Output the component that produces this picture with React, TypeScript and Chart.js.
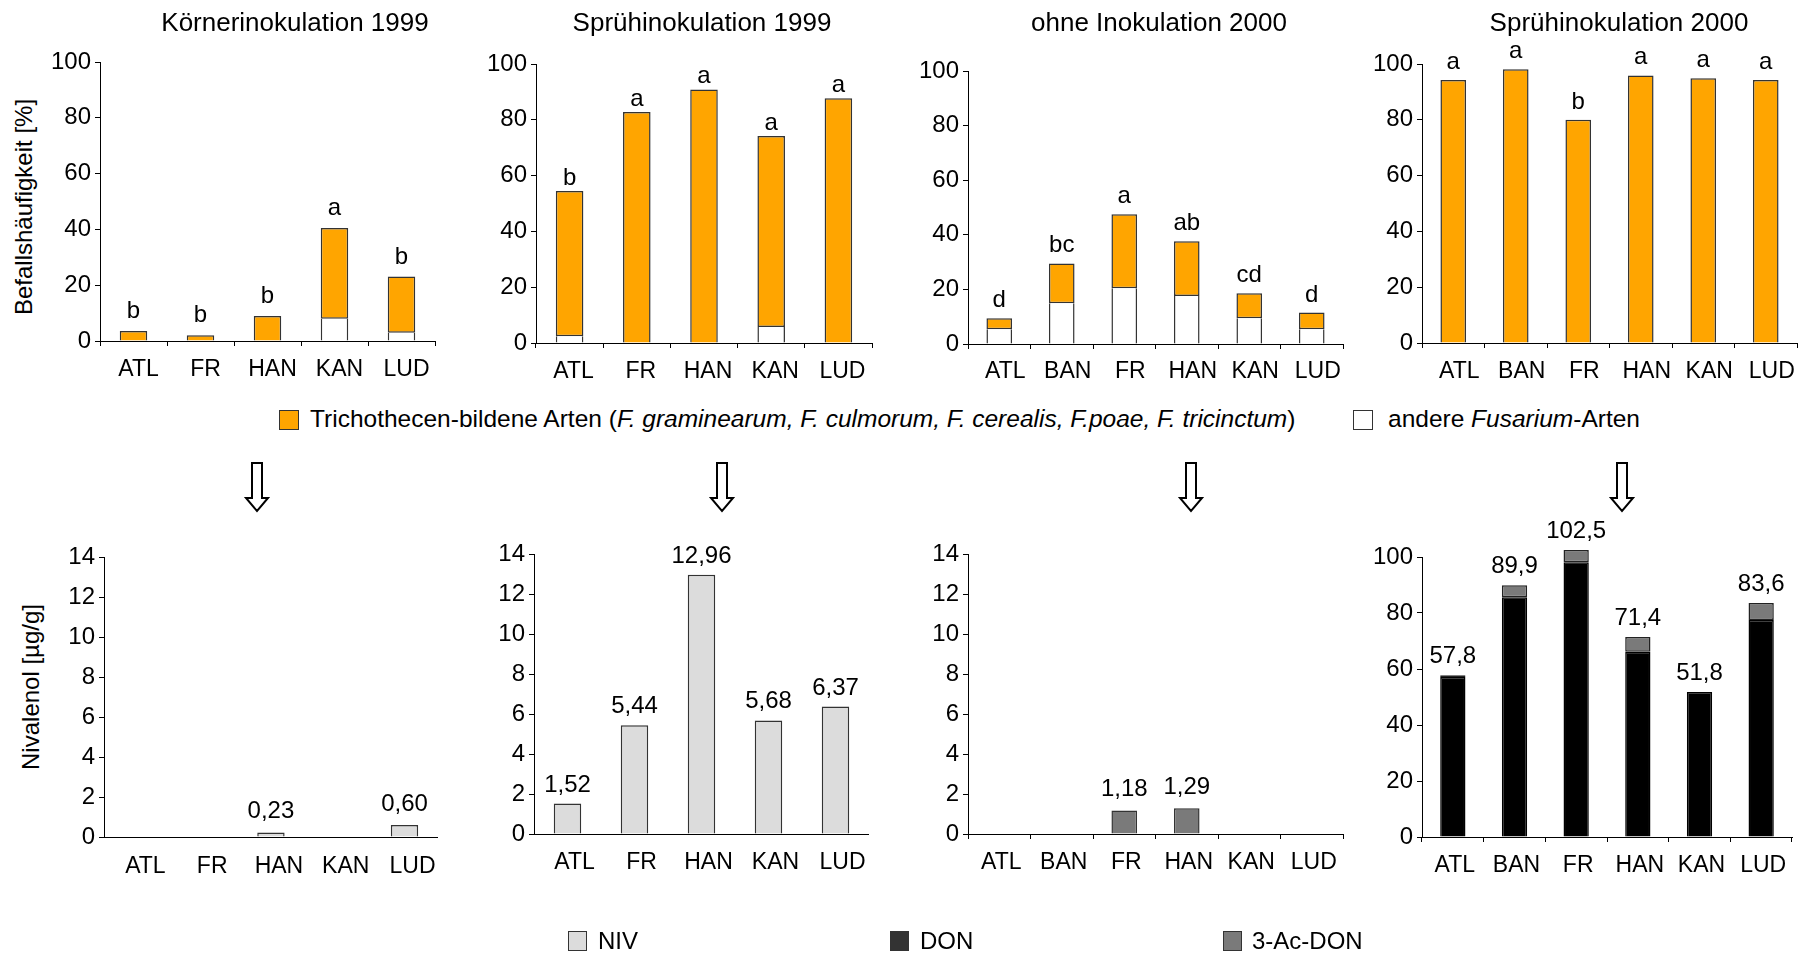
import React, { useEffect, useRef } from 'react';
import { Chart, registerables } from 'chart.js';

Chart.register(...registerables);

const FONT = '"Liberation Sans", Arial, Helvetica, sans-serif';
Chart.defaults.font.family = FONT;
Chart.defaults.color = '#000';

// Standorte
const orte1999 = ['ATL', 'FR', 'HAN', 'KAN', 'LUD'];
const orte2000 = ['ATL', 'BAN', 'FR', 'HAN', 'KAN', 'LUD'];

// Befallshäufigkeit [%]: andere Fusarium-Arten (unten) und Trichothecen-Bildner (oben)
const koerner1999Andere = [0, 0, 0, 8.0, 3.0];
const koerner1999Trich = [3.6, 2.1, 9.0, 32.5, 20.1];
const koerner1999Gruppen = ['b', 'b', 'b', 'a', 'b'];

const sprueh1999Andere = [2.4, 0, 0, 5.7, 0];
const sprueh1999Trich = [52.1, 82.8, 90.9, 68.5, 87.7];
const sprueh1999Gruppen = ['b', 'a', 'a', 'a', 'a'];

const ohne2000Andere = [5.4, 14.9, 20.4, 17.6, 9.4, 5.4];
const ohne2000Trich = [4.0, 14.6, 27.1, 20.0, 9.2, 6.1];
const ohne2000Gruppen = ['d', 'bc', 'a', 'ab', 'cd', 'd'];

const sprueh2000Andere = [0, 0, 0, 0, 0, 0];
const sprueh2000Trich = [94.3, 98.1, 80.0, 95.9, 94.9, 94.3];
const sprueh2000Gruppen = ['a', 'a', 'b', 'a', 'a', 'a'];

// Toxingehalte [µg/g]
const koerner1999Niv = [0, 0, 0.23, 0, 0.6];
const sprueh1999Niv = [1.52, 5.44, 12.96, 5.68, 6.37];
const ohne2000Toxin = [0, 0, 1.18, 1.29, 0, 0];
const sprueh2000Don = [57.1, 85.6, 98.1, 66.2, 51.8, 77.5];
const sprueh2000AcDon = [0.7, 4.3, 4.4, 5.2, 0, 6.1];

const ORANGE = '#FFA500';
const EDGE = '#333333';
const NIV_GREY = '#DCDCDC';
const DON_BLACK = '#000000';
const ACDON_GREY = '#7A7A7A';

const BAR = { barPercentage: 0.41, categoryPercentage: 1 };
const BW = 1.5;

// bottom segment: sides only, the axis line closes it
const andereDs = (data: number[]) => ({
  label: 'andere Fusarium-Arten', data, backgroundColor: '#FFFFFF', borderColor: EDGE,
  borderWidth: { top: 0, left: BW, right: BW, bottom: 0 }, borderSkipped: false, ...BAR,
});
// upper segment: its lower edge separates it from the white segment below
const trichDs = (data: number[], below: number[]) => ({
  label: 'Trichothecen-bildende Arten', data, backgroundColor: ORANGE, borderColor: EDGE,
  borderWidth: (c: any) => ({ top: BW, left: BW, right: BW, bottom: below[c.dataIndex] > 0 ? BW : 0 }),
  borderSkipped: false, ...BAR,
});
const toxinDs = (label: string, data: number[], color: string, edge: string, onAxis: boolean) => ({
  label, data, backgroundColor: color, borderColor: edge,
  borderWidth: { top: BW, left: BW, right: BW, bottom: onAxis ? 0 : BW },
  borderSkipped: false, clip: false, ...BAR,
});

const fmt = (v: number, d: number) => (v > 0 ? v.toFixed(d).replace('.', ',') : '');
const sum = (a: number[], b: number[]) => a.map((v, i) => v + b[i]);

type Panel = {
  area: { l: number; t: number; r: number; b: number };
  labels: string[];
  datasets: any[];
  yMax: number;
  yStep: number;
  xTicks: boolean;
  xPad: number;
  labelShift: number;
  texts: string[];
  textOffset: number;
};

const PANELS: Panel[] = [
  {
    area: { l: 100, t: 62, r: 435, b: 341 }, labels: orte1999,
    datasets: [andereDs(koerner1999Andere), trichDs(koerner1999Trich, koerner1999Andere)],
    yMax: 100, yStep: 20, xTicks: true, xPad: 10, labelShift: 5, texts: koerner1999Gruppen, textOffset: 13,
  },
  {
    area: { l: 536, t: 64, r: 872, b: 343 }, labels: orte1999,
    datasets: [andereDs(sprueh1999Andere), trichDs(sprueh1999Trich, sprueh1999Andere)],
    yMax: 100, yStep: 20, xTicks: true, xPad: 10, labelShift: 4, texts: sprueh1999Gruppen, textOffset: 6,
  },
  {
    area: { l: 968, t: 71, r: 1343, b: 344 }, labels: orte2000,
    datasets: [andereDs(ohne2000Andere), trichDs(ohne2000Trich, ohne2000Andere)],
    yMax: 100, yStep: 20, xTicks: true, xPad: 9, labelShift: 6, texts: ohne2000Gruppen, textOffset: 11,
  },
  {
    area: { l: 1422, t: 64, r: 1797, b: 343 }, labels: orte2000,
    datasets: [andereDs(sprueh2000Andere), trichDs(sprueh2000Trich, sprueh2000Andere)],
    yMax: 100, yStep: 20, xTicks: true, xPad: 10, labelShift: 6, texts: sprueh2000Gruppen, textOffset: 11,
  },
  {
    area: { l: 104, t: 557, r: 439, b: 837 }, labels: orte1999,
    datasets: [toxinDs('NIV', koerner1999Niv, NIV_GREY, EDGE, true)],
    yMax: 14, yStep: 2, xTicks: false, xPad: 16, labelShift: 8,
    texts: koerner1999Niv.map((v) => fmt(v, 2)), textOffset: 14,
  },
  {
    area: { l: 534, t: 554, r: 869, b: 834 }, labels: orte1999,
    datasets: [toxinDs('NIV', sprueh1999Niv, NIV_GREY, EDGE, true)],
    yMax: 14, yStep: 2, xTicks: false, xPad: 15, labelShift: 7,
    texts: sprueh1999Niv.map((v) => fmt(v, 2)), textOffset: 12,
  },
  {
    area: { l: 968, t: 554, r: 1343, b: 834 }, labels: orte2000,
    datasets: [toxinDs('3-Ac-DON', ohne2000Toxin, ACDON_GREY, EDGE, true)],
    yMax: 14, yStep: 2, xTicks: true, xPad: 10, labelShift: 2,
    texts: ohne2000Toxin.map((v) => fmt(v, 2)), textOffset: 14,
  },
  {
    area: { l: 1422, t: 557, r: 1792, b: 837 }, labels: orte2000,
    datasets: [
      toxinDs('DON', sprueh2000Don, DON_BLACK, DON_BLACK, true),
      toxinDs('3-Ac-DON', sprueh2000AcDon, ACDON_GREY, '#222222', false),
    ],
    yMax: 100, yStep: 20, xTicks: true, xPad: 10, labelShift: 2,
    texts: sum(sprueh2000Don, sprueh2000AcDon).map((v) => fmt(v, 1)), textOffset: 12,
  },
];

const Y_W = 60;
const X_H = 50;
const PAD_TOP = 50;
const PAD_RIGHT = 5;

function BarPanel({ p }: { p: Panel }) {
  const ref = useRef<HTMLCanvasElement>(null);
  const w = p.area.r - p.area.l + Y_W + PAD_RIGHT;
  const h = p.area.b - p.area.t + PAD_TOP + X_H;

  useEffect(() => {
    const texts = p.texts;
    const offset = p.textOffset;
    // writes the group letters / totals above each stacked column
    const stackText = {
      id: 'stackText',
      afterDatasetsDraw(chart: any) {
        const ctx = chart.ctx;
        const n = chart.data.datasets.length;
        ctx.save();
        ctx.font = `24px ${FONT}`;
        ctx.fillStyle = '#000';
        ctx.textAlign = 'center';
        ctx.textBaseline = 'alphabetic';
        texts.forEach((t, i) => {
          if (!t) return;
          let top = Infinity;
          let x = 0;
          for (let d = 0; d < n; d++) {
            const el = chart.getDatasetMeta(d).data[i];
            if (el) {
              top = Math.min(top, el.y);
              x = el.x;
            }
          }
          ctx.fillText(t, x, top - offset);
        });
        ctx.restore();
      },
    };

    const chart = new Chart(ref.current as HTMLCanvasElement, {
      type: 'bar',
      data: { labels: p.labels, datasets: p.datasets },
      options: {
        responsive: false,
        maintainAspectRatio: false,
        animation: false,
        layout: { padding: { top: PAD_TOP, right: PAD_RIGHT, left: 0, bottom: 0 } },
        plugins: { legend: { display: false }, tooltip: { enabled: false }, title: { display: false } },
        scales: {
          x: {
            stacked: true,
            afterFit: (s: any) => { s.height = X_H; },
            grid: p.xTicks
              ? { drawOnChartArea: false, drawTicks: true, tickLength: 5, color: '#000', offset: true }
              : { drawOnChartArea: false, drawTicks: false, color: 'rgba(0,0,0,0)' },
            border: { display: true, color: '#000', width: 1 },
            ticks: {
              padding: p.xPad, labelOffset: p.labelShift, font: { size: 23 }, color: '#000',
              maxRotation: 0, autoSkip: false,
            },
          },
          y: {
            stacked: true,
            min: 0,
            max: p.yMax,
            afterFit: (s: any) => { s.width = Y_W; },
            grid: { drawOnChartArea: false, drawTicks: true, tickLength: 5, color: '#000' },
            border: { display: true, color: '#000', width: 1 },
            ticks: { stepSize: p.yStep, padding: 4, font: { size: 24 }, color: '#000' },
          },
        },
      } as any,
      plugins: [stackText],
    });
    return () => chart.destroy();
  }, []);

  return (
    <canvas
      ref={ref}
      width={w}
      height={h}
      style={{ position: 'absolute', left: p.area.l - Y_W, top: p.area.t - PAD_TOP, width: w, height: h }}
    />
  );
}

const TITLES = [
  { text: 'Körnerinokulation 1999', x: 295, y: 22 },
  { text: 'Sprühinokulation 1999', x: 702, y: 22 },
  { text: 'ohne Inokulation 2000', x: 1159, y: 22 },
  { text: 'Sprühinokulation 2000', x: 1619, y: 22 },
];

const ARROW_X = [257, 722, 1191, 1622];

function Text({ x, y, size, children, rotate, anchor }: any) {
  const tf = anchor === 'left'
    ? 'translate(0, -50%)'
    : `translate(-50%, -50%)${rotate ? ' rotate(-90deg)' : ''}`;
  return (
    <div
      style={{
        position: 'absolute', left: x, top: y, transform: tf, fontSize: size, lineHeight: 1,
        whiteSpace: 'nowrap', fontFamily: FONT, color: '#000',
      }}
    >
      {children}
    </div>
  );
}

function Swatch({ x, y, w, h, color }: any) {
  return (
    <div
      style={{
        position: 'absolute', left: x, top: y, width: w, height: h, boxSizing: 'border-box',
        background: color, border: '1.5px solid #333',
      }}
    />
  );
}

export default function App() {
  return (
    <div
      style={{
        position: 'absolute', left: 0, top: 0, width: 1802, height: 955, overflow: 'hidden',
        background: '#fff', fontFamily: FONT,
      }}
    >
      {PANELS.map((p, i) => (
        <BarPanel key={i} p={p} />
      ))}

      {TITLES.map((t) => (
        <Text key={t.text} x={t.x} y={t.y} size={26}>{t.text}</Text>
      ))}

      <Text x={24} y={207} size={24} rotate>Befallshäufigkeit [%]</Text>
      <Text x={31} y={687} size={24} rotate>Nivalenol [µg/g]</Text>

      <Swatch x={279} y={410} w={20} h={20} color={ORANGE} />
      <Text x={310} y={419} size={24.5} anchor="left">
        Trichothecen-bildene Arten (
        <i>F. graminearum, F. culmorum, F. cerealis, F.poae, F. tricinctum</i>)
      </Text>
      <Swatch x={1353} y={410} w={20} h={20} color="#FFFFFF" />
      <Text x={1388} y={419} size={24.5} anchor="left">
        andere <i>Fusarium</i>-Arten
      </Text>

      <svg
        width={1802}
        height={955}
        style={{ position: 'absolute', left: 0, top: 0, pointerEvents: 'none' }}
      >
        {ARROW_X.map((cx) => (
          <polygon
            key={cx}
            points={`${cx - 5},463 ${cx + 5},463 ${cx + 5},498 ${cx + 11},498 ${cx},511 ${cx - 11},498 ${cx - 5},498`}
            fill="#fff"
            stroke="#000"
            strokeWidth={2}
            strokeLinejoin="miter"
          />
        ))}
      </svg>

      <Swatch x={568} y={931} w={19} h={20} color={NIV_GREY} />
      <Text x={598} y={941} size={24} anchor="left">NIV</Text>
      <Swatch x={890} y={931} w={19} h={20} color="#333333" />
      <Text x={920} y={941} size={24} anchor="left">DON</Text>
      <Swatch x={1223} y={931} w={19} h={20} color={ACDON_GREY} />
      <Text x={1252} y={941} size={24} anchor="left">3-Ac-DON</Text>
    </div>
  );
}
